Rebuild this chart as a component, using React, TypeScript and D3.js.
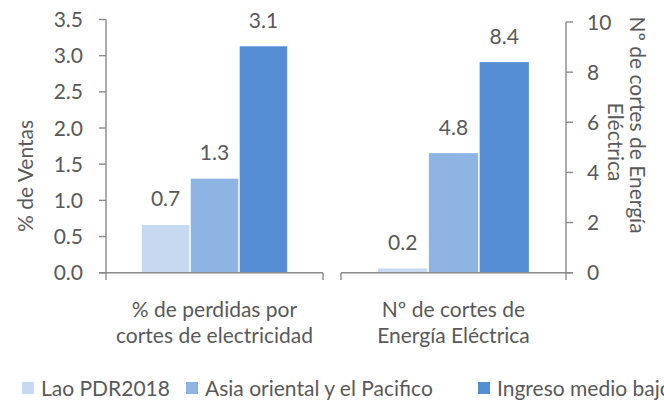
import * as d3 from "d3";

// chart data
const categories = ["% de perdidas por cortes de electricidad", "Nº  de cortes de Energía Eléctrica"];
const categoryLines = [
  ["% de perdidas por", "cortes de electricidad"],
  ["Nº  de cortes de", "Energía Eléctrica"],
];
const seriesNames = ["Lao PDR2018", "Asia oriental y el Pacifico", "Ingreso medio bajo"];
const perdidas = [0.66, 1.3, 3.13]; // % de ventas, left axis
const cortes = [0.17, 4.77, 8.4]; // nº de cortes, right axis
const leftTicks = [0, 0.5, 1, 1.5, 2, 2.5, 3, 3.5];
const rightTicks = [0, 2, 4, 6, 8, 10];

const colors = ["#C6D9F0", "#8EB4E3", "#558ED5"];
const textColor = "#595959";
const axisColor = "#8A8A8A";
const font = "Lato, 'Open Sans', sans-serif";
const fs = 21;

export default function App() {
  const width = 664;
  const height = 407;
  const baseY = 272.7;

  const yLeft = d3.scaleLinear().domain([0, 3.5]).range([baseY, 19.5]);
  const yRight = d3.scaleLinear().domain([0, 10]).range([baseY, 22]);

  // each category sits in its own plot (primary / secondary axis)
  const xLeft = d3.scaleBand().domain([categories[0]]).range([106, 323]);
  const xRight = d3.scaleBand().domain([categories[1]]).range([341, 566]);

  const groups = [
    { cat: categories[0], x: xLeft, y: yLeft, values: perdidas, lines: categoryLines[0] },
    { cat: categories[1], x: xRight, y: yRight, values: cortes, lines: categoryLines[1] },
  ];

  const fmt = d3.format(".1f");

  const legendX = [22, 186, 478];

  return (
    <svg
      width={width}
      height={height}
      style={{ position: "absolute", left: 0, top: 0, background: "#fff" }}
      fontFamily={font}
      fontSize={fs}
      fill={textColor}
    >
      {groups.map((g, gi) => {
        const x0 = g.x(g.cat)!;
        const bw = g.x.bandwidth();
        const gap = bw * 0.165;
        const x1 = d3
          .scaleBand()
          .domain(seriesNames)
          .range([x0 + gap, x0 + bw - gap])
          .paddingInner(0.03);
        return (
          <g key={gi}>
            {g.values.map((v, i) => (
              <g key={i}>
                <rect
                  x={x1(seriesNames[i])}
                  y={g.y(v)}
                  width={x1.bandwidth()}
                  height={baseY - g.y(v)}
                  fill={colors[i]}
                />
                <text
                  x={x1(seriesNames[i])! + x1.bandwidth() / 2}
                  y={g.y(v) - 18.5}
                  textAnchor="middle"
                >
                  {fmt(v)}
                </text>
              </g>
            ))}
            {/* category axis */}
            <line x1={x0 - (gi === 0 ? 7 : 0)} x2={x0 + bw + (gi === 1 ? 7 : 0)} y1={baseY} y2={baseY} stroke={axisColor} strokeWidth={1.4} />
            <line x1={x0} x2={x0} y1={baseY} y2={280} stroke={axisColor} strokeWidth={1.4} />
            <line x1={x0 + bw} x2={x0 + bw} y1={baseY} y2={280} stroke={axisColor} strokeWidth={1.4} />
            {g.lines.map((l, li) => (
              <text key={li} x={x0 + bw / 2} y={317 + li * 26} textAnchor="middle">
                {l}
              </text>
            ))}
          </g>
        );
      })}

      {/* left axis */}
      <line x1={106} x2={106} y1={yLeft(3.5)} y2={baseY} stroke={axisColor} strokeWidth={1.4} />
      {leftTicks.map((t) => (
        <g key={t}>
          <line x1={99} x2={106} y1={yLeft(t)} y2={yLeft(t)} stroke={axisColor} strokeWidth={1.4} />
          <text x={83} y={yLeft(t)} dy="0.36em" textAnchor="end">
            {fmt(t)}
          </text>
        </g>
      ))}
      <text transform="translate(33,176) rotate(-90)" textAnchor="middle">
        % de Ventas
      </text>

      {/* right axis */}
      <line x1={566} x2={566} y1={yRight(10)} y2={baseY} stroke={axisColor} strokeWidth={1.4} />
      {rightTicks.map((t) => (
        <g key={t}>
          <line x1={566} x2={573} y1={yRight(t)} y2={yRight(t)} stroke={axisColor} strokeWidth={1.4} />
          <text x={587} y={yRight(t)} dy="0.36em" textAnchor="start">
            {t}
          </text>
        </g>
      ))}
      <text transform="translate(630,125) rotate(90)" textAnchor="middle">
        Nº de cortes de Energía
      </text>
      <text transform="translate(608,142) rotate(90)" textAnchor="middle">
        Eléctrica
      </text>

      {/* legend */}
      {seriesNames.map((s, i) => (
        <g key={s}>
          <rect x={legendX[i]} y={382} width={12} height={12} fill={colors[i]} />
          <text x={legendX[i] + 19} y={396}>
            {s}
          </text>
        </g>
      ))}
    </svg>
  );
}
